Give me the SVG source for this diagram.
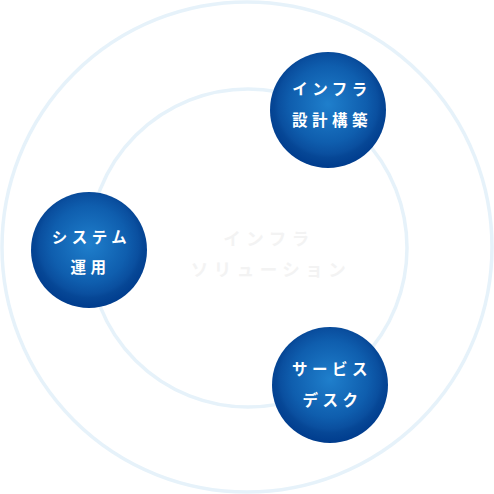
<svg xmlns="http://www.w3.org/2000/svg" width="494" height="494" viewBox="0 0 494 494">
<style>
.ring{fill:none;stroke:#e6f2fa;stroke-width:3.5}
.lbl{font-family:"Noto Sans CJK JP","Noto Sans",sans-serif;font-weight:bold;font-size:15.5px;fill:#ffffff;letter-spacing:4.5px;text-anchor:middle}
.ctr{font-family:"Noto Sans CJK JP","Noto Sans",sans-serif;font-weight:bold;font-size:17.5px;fill:#f3f3f3;letter-spacing:5.5px;text-anchor:middle}
</style>
<defs>
<radialGradient id="ball" cx="0.5" cy="0.45" r="0.55">
<stop offset="0" stop-color="#1f7fcc"/>
<stop offset="0.6" stop-color="#0f5eae"/>
<stop offset="0.78" stop-color="#0a4f9f"/>
<stop offset="0.84" stop-color="#064796"/>
<stop offset="1" stop-color="#003c8d"/>
</radialGradient>
</defs>
<g id="connectors">
<circle class="ring" cx="247" cy="247" r="245"/>
<circle class="ring" cx="248" cy="248" r="159"/>
</g>
<g id="center">
<text class="ctr" x="269" y="245">インフラ</text>
<text class="ctr" x="271" y="276">ソリューション</text>
</g>
<g id="node-infra">
<circle cx="328" cy="110" r="58" fill="url(#ball)"/>
<text class="lbl" x="332" y="95">インフラ</text>
<text class="lbl" x="332" y="126">設計構築</text>
</g>
<g id="node-system">
<circle cx="89" cy="250" r="58" fill="url(#ball)"/>
<text class="lbl" x="91.5" y="243">システム</text>
<text class="lbl" x="90.5" y="273">運用</text>
</g>
<g id="node-desk">
<circle cx="330" cy="385" r="58" fill="url(#ball)"/>
<text class="lbl" x="332" y="375">サービス</text>
<text class="lbl" x="332.5" y="406">デスク</text>
</g>
</svg>
